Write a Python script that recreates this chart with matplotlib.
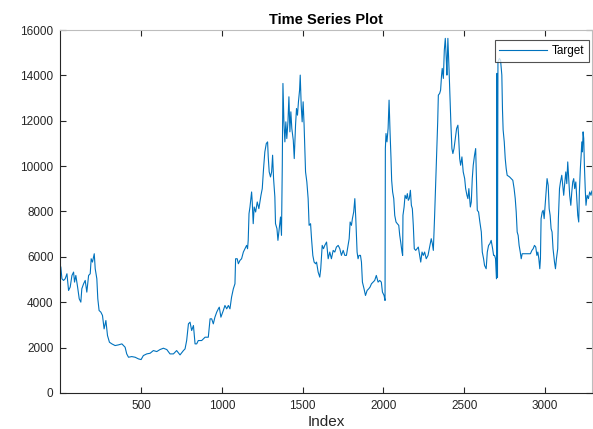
import matplotlib
matplotlib.use("Agg")
import matplotlib.pyplot as plt

# Values (index, value)
idx = [
    3, 10, 20, 30, 41, 51, 61, 72, 82, 88, 96, 107, 117, 127, 133, 144, 154, 164,
    175, 185, 191, 199, 210, 216, 226, 232, 240, 251, 261, 271, 282, 292, 304, 319,
    339, 360, 381, 391, 401, 411, 422, 442, 463, 484, 500, 514, 535, 556, 576, 597,
    617, 638, 659, 679, 700, 720, 741, 762,
    772, 782, 793, 803, 813, 824, 834, 844, 854, 875, 896, 916, 927, 937, 947, 957,
    968, 978, 984, 994, 1009, 1019, 1030, 1040, 1050, 1060, 1071, 1081, 1085, 1095,
    1102, 1112, 1122, 1133, 1143, 1153, 1159, 1163, 1168, 1174, 1184, 1188, 1194,
    1200, 1209, 1219, 1229, 1242, 1250, 1258, 1266, 1275, 1283, 1287, 1293, 1301,
    1308, 1314, 1320, 1328, 1332, 1341, 1347, 1355, 1363, 1369, 1374, 1378, 1384,
    1390, 1396, 1402, 1409, 1415, 1421, 1427, 1433, 1442, 1448, 1456, 1462, 1468,
    1474, 1481, 1485, 1491, 1497, 1503, 1509, 1518, 1526, 1534, 1540, 1549, 1555,
    1563, 1571, 1580,
    1586, 1596, 1606, 1612, 1621, 1629, 1637, 1648, 1658, 1668, 1678, 1689, 1699,
    1709, 1720, 1730, 1740, 1751, 1761, 1771, 1781, 1788, 1794, 1802, 1808, 1816,
    1823, 1829, 1837, 1843, 1849, 1858, 1864, 1870, 1880, 1889, 1899, 1909, 1917,
    1926, 1936, 1946, 1956, 1967, 1977, 1987, 1994, 2004, 2010, 2012, 2016, 2022,
    2029, 2035, 2041, 2047, 2051, 2057, 2064, 2070, 2078, 2086, 2095, 2101, 2107,
    2115, 2119, 2121, 2128, 2134, 2142, 2148, 2154, 2160, 2167, 2173, 2179, 2185,
    2191, 2200, 2208, 2216, 2224, 2231, 2239, 2247, 2255, 2265, 2276, 2286, 2296,
    2303, 2309, 2317, 2323, 2329, 2336, 2340, 2348, 2354, 2360, 2364, 2371, 2377,
    2383, 2389, 2393, 2399, 2406, 2412, 2418, 2424,
    2430, 2437, 2445, 2453, 2461, 2465, 2472, 2478, 2486, 2494, 2503, 2509, 2517,
    2523, 2529, 2538, 2544, 2550, 2556, 2564, 2571, 2575, 2581, 2589, 2597, 2606,
    2612, 2620, 2626, 2636, 2643, 2651, 2659, 2667, 2676, 2682, 2688, 2694, 2700,
    2703, 2706, 2709,
    2718, 2725, 2733, 2737, 2741, 2748, 2754, 2760, 2766, 2781, 2791, 2801, 2809,
    2816, 2822, 2828, 2834, 2840, 2847, 2853, 2859, 2869, 2884, 2898, 2910, 2919,
    2927, 2935, 2943, 2950, 2956, 2962, 2968, 2972, 2976, 2983, 2989, 2995, 3001,
    3007, 3013, 3020, 3026, 3032, 3038, 3044, 3050, 3059, 3065, 3071, 3079, 3083,
    3090, 3096, 3104, 3110, 3116, 3123, 3129, 3135, 3141, 3147, 3153, 3160, 3166,
    3172, 3178, 3184, 3191, 3197, 3203, 3209, 3213, 3219, 3224, 3228, 3232, 3236,
    3240, 3244, 3250, 3254, 3261, 3269, 3277, 3285, 3290,
]
target = [
    5550, 5034, 4961, 5034, 5255, 4519, 4666, 5181, 5329, 4887, 5181, 4666, 4151,
    4004, 4593, 4813, 4961, 4445, 5181, 5255, 5917, 5770, 6138, 5476, 5034, 4151,
    3636, 3562, 3415, 2826, 3194, 2532, 2237, 2164, 2090, 2120, 2164, 2090, 2017,
    1722, 1575, 1604, 1575, 1501, 1472, 1649, 1722, 1752, 1869, 1825, 1914, 1972,
    1914, 1722, 1722, 1869, 1678, 1869,
    1943, 2311, 3047, 3121, 2753, 2973, 2164, 2164, 2311, 2311, 2458, 2458, 3268,
    3268, 3047, 3341, 3562, 3709, 3783, 3341, 3636, 3857, 3709, 3857, 3709, 4225,
    4593, 4813, 5917, 5917, 5697, 5844, 5917, 6212, 6359, 6506, 6359, 6727, 7905,
    8199, 8861, 8420, 7463, 8199, 7978, 8420, 8125, 8714, 9009, 9892, 10628, 10996,
    11069, 10407, 9745, 9524, 9745, 10481, 9450, 8641, 7463, 7242, 6727, 7242,
    7757, 6948, 10039, 13645, 11953, 11069, 11953, 11217, 11953, 13057, 11511,
    12394, 11658, 11143, 10333, 11805, 12541, 12247, 12836, 13351, 14013, 12689,
    11953, 12836, 11805, 9745, 9303, 8567, 7389, 7463, 6801, 6065, 5770, 5697,
    5770, 5329, 5108, 5476, 6506, 6359, 6506, 6653, 5917, 6212, 5917, 6285, 6212,
    6433, 6506, 6359, 6065, 6285, 6065, 6065, 6506, 6801, 7537, 7389, 7684, 7978,
    8567, 7684, 6212, 5917, 6065, 6065, 5770, 4887, 4593, 4298, 4519, 4593, 4666,
    4813, 4887, 4961, 5181, 4887, 4961, 4887, 4445, 4298, 4077, 10775, 11437,
    11069, 11658, 12909, 11511, 10333, 9376, 8861, 8567, 7831, 7537, 7463, 7389,
    6948, 6653, 6212, 6065, 7831, 8199, 8714, 8567, 8788, 8493, 8567, 8935, 8273,
    8125, 7389, 6359, 6285, 6359, 6433, 6065, 5770, 6212, 6065, 6212, 5917, 6065,
    6433, 6801, 6580, 6285, 7831, 9156, 10481, 11953, 13130, 13204, 13351, 14013,
    14308, 13866, 15117, 15633, 14749, 14013, 15633, 14308, 12983, 11805, 10775,
    10554, 10775, 11217, 11658, 11805, 11364, 10333, 10039, 10407, 9745, 9450,
    9009, 8714, 8567, 9009, 8199, 8420, 9450, 10039, 10481, 10775, 9745, 8052,
    7978, 7537, 7095, 6212, 5917, 5623, 5476, 6212, 6506, 6580, 6727, 6359, 6065,
    6065, 5917, 5034,
    14090, 5100, 14600,
    14749, 14676, 14013, 12500, 11600, 11069, 10333, 9892, 9597, 9524, 9450, 9376,
    9009, 8567, 7978, 7095, 6948, 6506, 6212, 5917, 6138, 6138, 6138, 6138, 6138,
    6285, 6359, 6506, 6433, 6065, 6212, 5917, 5476, 5917, 7684, 7978, 8052, 7684,
    8273, 8861, 9450, 9156, 8125, 7831, 7242, 7095, 6359, 5770, 5476, 5917, 6359,
    7684, 9009, 9303, 9597, 9156, 8714, 9303, 9745, 9229, 10186, 9450, 8714, 8273,
    8861, 9303, 9450, 9009, 9303, 8567, 7831, 7537, 8861, 9892, 10481, 11069,
    10628, 11511, 11217, 10039, 8861, 8273, 8714, 8567, 8861, 8714, 8900,
]

xticks = [500, 1000, 1500, 2000, 2500, 3000]
yticks = list(range(0, 16001, 2000))

plt.rcParams.update({
    "font.family": ["Liberation Sans", "DejaVu Sans"],
    "font.size": 8.5,
    "axes.linewidth": 0.8,
})

fig = plt.figure(figsize=(5.93, 4.29), dpi=100)
ax = fig.add_axes([0.102, 0.084, 0.896, 0.846])

ax.plot(idx, target, color="#0072BD", linewidth=0.8, label="Target")

ax.set_xlim(1, 3290)
ax.set_ylim(0, 16000)
ax.set_xticks(xticks)
ax.set_yticks(yticks)
ax.tick_params(direction="in", length=4, width=0.8, colors="#262626",
               top=True, right=True, labelsize=8.5, pad=5)
for side in ["left", "bottom"]:
    ax.spines[side].set_color("#262626")
for side in ["top", "right"]:
    ax.spines[side].set_color("#bdbdbd")

ax.set_xlabel("Index", fontsize=11, color="#262626", labelpad=2)
ax.set_title("Time Series Plot", fontsize=10.5, fontweight="bold", pad=4)

leg = ax.legend(loc="upper right", fontsize=8.5, frameon=True, fancybox=False,
                handlelength=4.0, handletextpad=0.4, borderpad=0.4,
                borderaxespad=0, bbox_to_anchor=(0.994, 0.972))
leg.get_frame().set_edgecolor("#262626")
leg.get_frame().set_linewidth(0.8)

fig.savefig("out.png", dpi=100)
